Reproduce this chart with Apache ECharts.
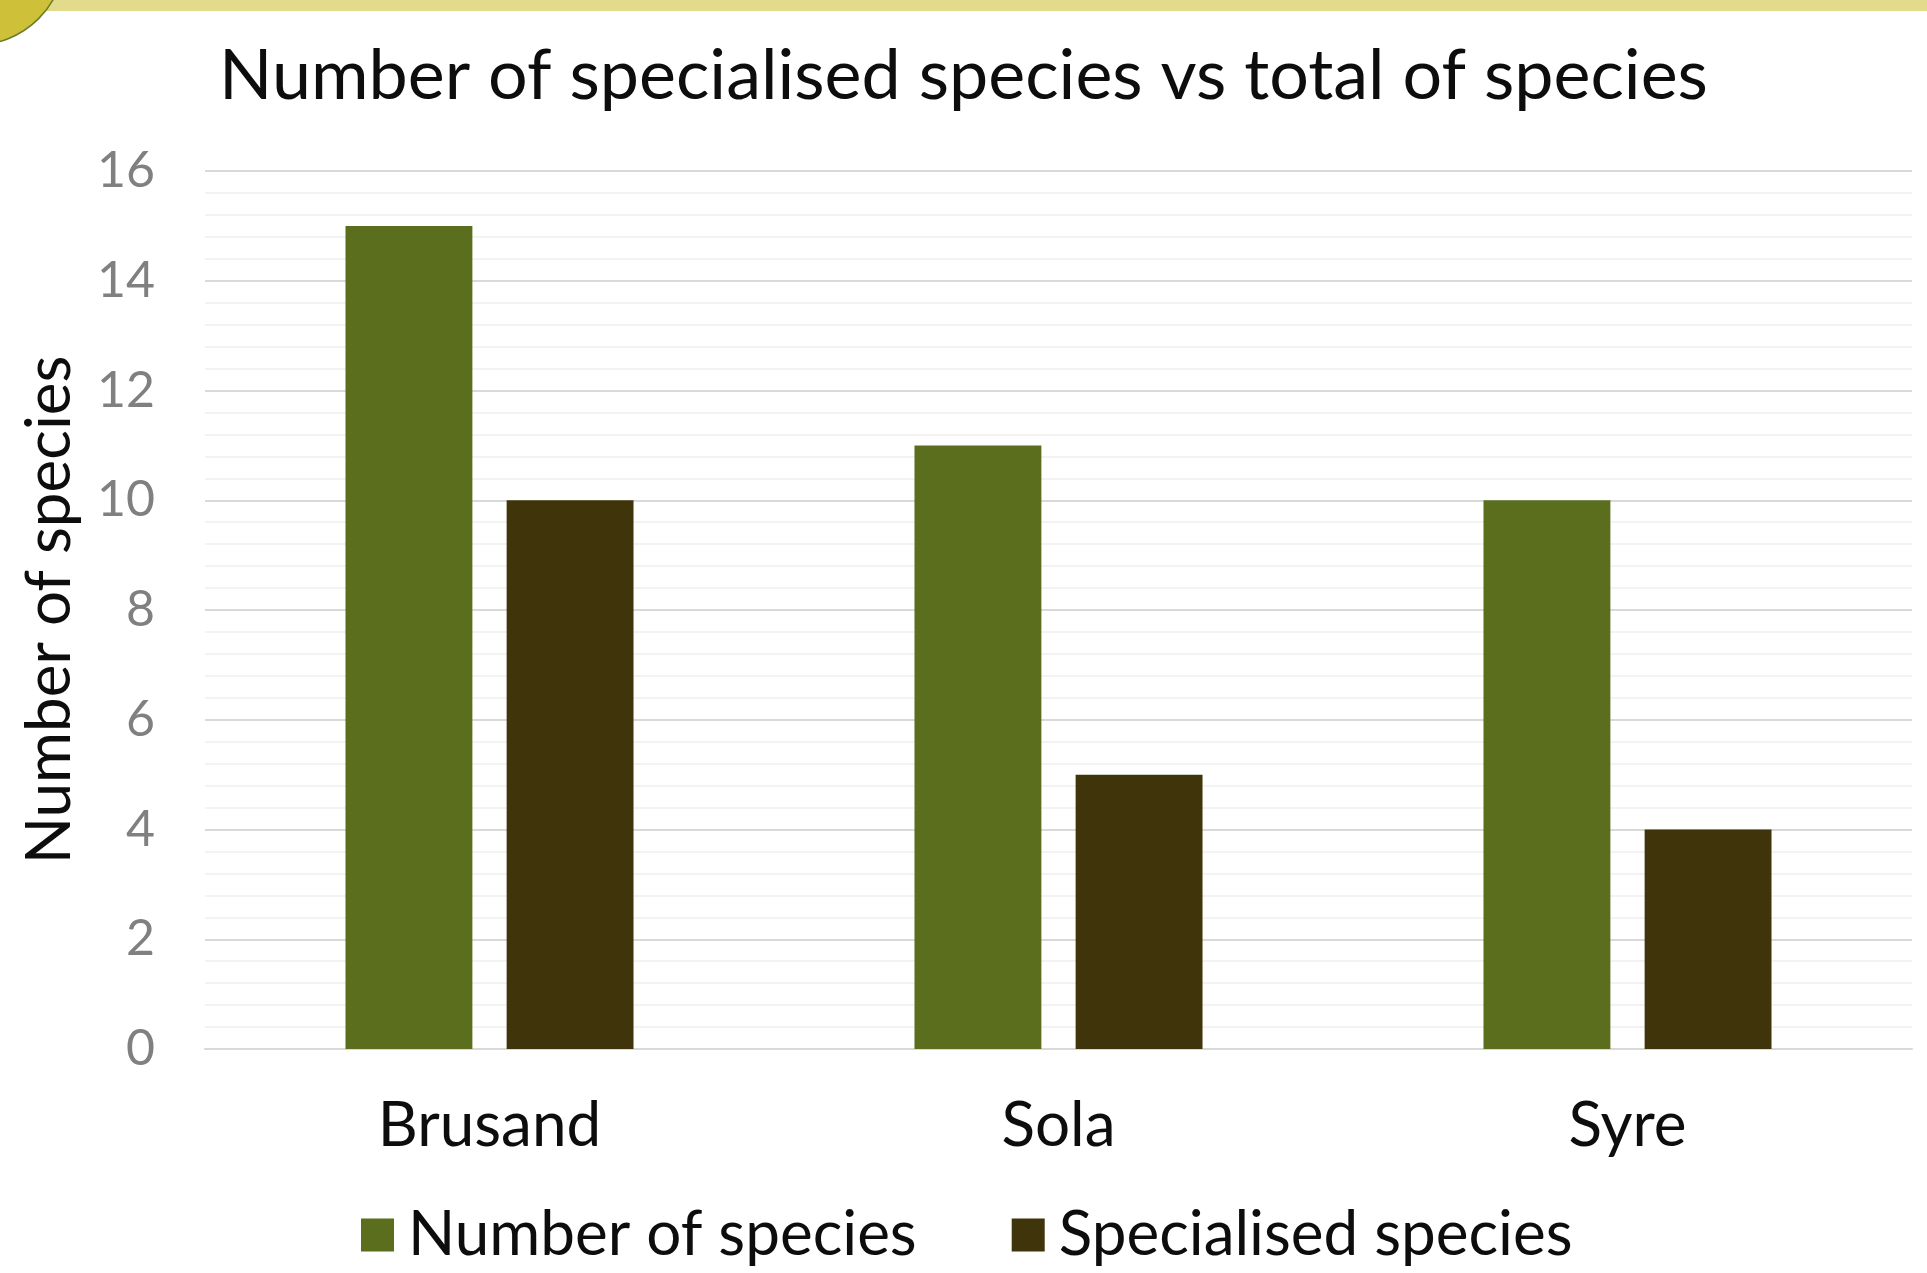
<!DOCTYPE html>
<html>
<head>
<meta charset="utf-8">
<style>
  html, body { margin: 0; padding: 0; background: #ffffff; }
  #chart { width: 1927px; height: 1273px; }
</style>
<script src="https://cdn.jsdelivr.net/npm/echarts@6/dist/echarts.min.js"></script>
</head>
<body>
<div id="chart"></div>
<script>
const titleText = 'Number of specialised species vs total of species';
const categories = ['Brusand', 'Sola', 'Syre'];
const seriesNames = ['Number of species', 'Specialised species'];
const totalSpecies = [15, 11, 10];
const specialisedSpecies = [10, 5, 4];
const yTicks = [0, 2, 4, 6, 8, 10, 12, 14, 16];
const yAxisName = 'Number of species';

const FONT = 'Lato';
const chart = echarts.init(document.getElementById('chart'), null, { renderer: 'canvas' });

chart.setOption({
  backgroundColor: '#ffffff',
  animation: false,
  graphic: [
    { type: 'rect', z: 0, shape: { x: 0, y: 0, width: 1927, height: 11 }, style: { fill: '#e2db8c' } },
    { type: 'circle', z: 1, shape: { cx: -25, cy: -45, r: 90 }, style: { fill: '#cfc03a', stroke: '#6b7a2a', lineWidth: 1.5 } }
  ],
  title: {
    text: titleText,
    left: 'center',
    top: 36,
    textStyle: { fontFamily: FONT, fontSize: 70, fontWeight: 'normal', color: '#0d0d0d' }
  },
  legend: {
    data: seriesNames,
    left: 356,
    top: 1199,
    icon: 'rect',
    itemWidth: 33,
    itemHeight: 33,
    itemGap: 95,
    textStyle: { fontFamily: FONT, fontSize: 62, color: '#0d0d0d', padding: [0, 0, 0, 9] }
  },
  grid: { left: 205, right: 15, top: 171, bottom: 224, containLabel: false },
  xAxis: {
    type: 'category',
    data: categories,
    axisLine: { show: true, lineStyle: { color: '#d9d9d9', width: 2 } },
    axisTick: { show: false },
    axisLabel: { fontFamily: FONT, fontSize: 62, color: '#0d0d0d', margin: 46 }
  },
  yAxis: {
    type: 'value',
    min: yTicks[0],
    max: yTicks[yTicks.length - 1],
    interval: yTicks[1] - yTicks[0],
    name: yAxisName,
    nameLocation: 'middle',
    nameRotate: 90,
    nameGap: 124,
    nameTextStyle: { fontFamily: FONT, fontSize: 62, color: '#0d0d0d' },
    axisLine: { show: false },
    axisTick: { show: false },
    axisLabel: { fontFamily: FONT, fontSize: 50, color: '#808080', margin: 50 },
    splitLine: { show: true, lineStyle: { color: '#d9d9d9', width: 2 } },
    minorTick: { show: false, splitNumber: 5 },
    minorSplitLine: { show: true, lineStyle: { color: '#efefef', width: 1.5 } }
  },
  series: [
    {
      name: seriesNames[0],
      type: 'bar',
      data: totalSpecies,
      barWidth: '22.3%',
      barGap: '27%',
      itemStyle: { color: '#5a6e1d' }
    },
    {
      name: seriesNames[1],
      type: 'bar',
      data: specialisedSpecies,
      barWidth: '22.3%',
      itemStyle: { color: '#40340b' }
    }
  ]
});
</script>
</body>
</html>
